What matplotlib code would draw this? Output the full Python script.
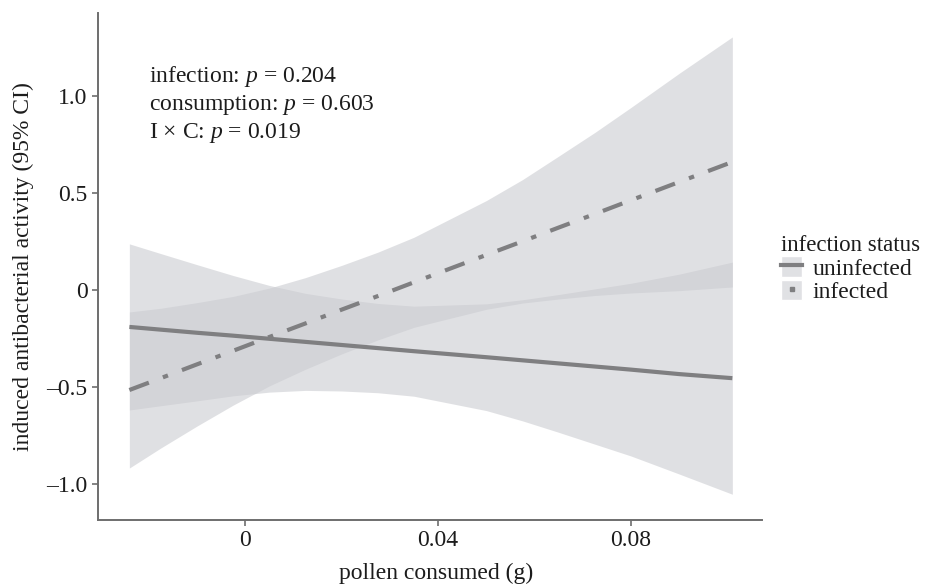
import numpy as np
import matplotlib
matplotlib.use("Agg")
from matplotlib import pyplot
from matplotlib.patches import Patch
from matplotlib.lines import Line2D

pyplot.rcParams['font.family'] = ['Liberation Serif', 'DejaVu Serif']
pyplot.rcParams['mathtext.fontset'] = 'custom'
pyplot.rcParams['mathtext.rm'] = 'Liberation Serif'
pyplot.rcParams['mathtext.it'] = 'Liberation Serif:italic'

# pollen consumed (g), sampled along the fitted range
pollen = [-0.024, -0.0175, -0.01, -0.0025, 0.005, 0.0125, 0.02, 0.0275, 0.035,
          0.05, 0.0575, 0.065, 0.0725, 0.08, 0.09, 0.101]

# uninfected: fit and 95% CI
unin_fit = [-0.190, -0.204, -0.220, -0.235, -0.251, -0.267, -0.283, -0.299, -0.315,
            -0.346, -0.362, -0.378, -0.394, -0.410, -0.433, -0.454]
unin_hi = [0.238, 0.188, 0.131, 0.075, 0.024, -0.017, -0.046, -0.069, -0.083,
           -0.071, -0.050, -0.023, 0.006, 0.035, 0.082, 0.144]
unin_lo = [-0.618, -0.596, -0.571, -0.545, -0.526, -0.517, -0.520, -0.529, -0.547,
           -0.621, -0.674, -0.733, -0.794, -0.855, -0.948, -1.052]

# infected: fit and 95% CI
inf_fit = [-0.515, -0.454, -0.383, -0.313, -0.242, -0.172, -0.101, -0.031, 0.040,
           0.181, 0.251, 0.322, 0.392, 0.463, 0.557, 0.660]
inf_hi = [-0.113, -0.094, -0.065, -0.033, 0.010, 0.064, 0.127, 0.195, 0.272,
          0.461, 0.569, 0.690, 0.812, 0.941, 1.117, 1.304]
inf_lo = [-0.917, -0.814, -0.701, -0.593, -0.494, -0.408, -0.329, -0.257, -0.192,
          -0.099, -0.067, -0.046, -0.028, -0.015, -0.003, 0.016]

yticks = [1.0, 0.5, 0, -0.5, -1.0]
ylabels = ['1.0', '0.5', '0', '\u20130.5', '\u20131.0']
xticks = [0, 0.04, 0.08]
xlabels = ['0', '0.04', '0.08']

stats = ['infection: $p$ = 0.204', 'consumption: $p$ = 0.603', 'I \u00d7 C: $p$ = 0.019']

band_col = '#cbccd1'
line_col = '#7f7f81'
axis_col = '#6e6e6e'
text_col = '#1c1c1c'
fs = 17

fig = pyplot.figure(figsize=(9.29, 5.85), dpi=100)
ax = fig.add_axes([0.1055, 0.111, 0.7145, 0.867])

ax.fill_between(pollen, unin_lo, unin_hi, color=band_col, alpha=0.6, lw=0)
ax.fill_between(pollen, inf_lo, inf_hi, color=band_col, alpha=0.6, lw=0)
ax.plot(pollen, unin_fit, color=line_col, lw=3.0, solid_capstyle='butt')
ax.plot(pollen, inf_fit, color=line_col, lw=3.0, dashes=(5, 3.6, 1.3, 3.6),
        dash_capstyle='butt')

ax.set_xlim(-0.0305, 0.1071)
ax.set_ylim(-1.185, 1.428)
ax.set_xticks(xticks)
ax.set_xticklabels(xlabels)
ax.set_yticks(yticks)
ax.set_yticklabels(ylabels)
ax.tick_params(colors=axis_col, labelcolor=text_col, labelsize=fs, length=4, width=1.2)
for s in ['top', 'right']:
    ax.spines[s].set_visible(False)
for s in ['left', 'bottom']:
    ax.spines[s].set_color(axis_col)
    ax.spines[s].set_linewidth(1.4)

ax.set_xlabel('pollen consumed (g)', fontsize=fs, color=text_col, labelpad=6)
ax.xaxis.set_label_coords(0.509, -0.085)
ax.set_ylabel('induced antibacterial activity (95% CI)', fontsize=fs, color=text_col, labelpad=9)

for i, s in enumerate(stats):
    ax.text(-0.0199, 1.0 + 0.1 - i * 0.146, s, fontsize=fs, color=text_col,
            va='center', ha='left')

h1 = (Patch(facecolor='#e0e1e4', edgecolor='white', lw=1),
      Line2D([], [], color=line_col, lw=3.0))
h2 = (Patch(facecolor='#e0e1e4', edgecolor='white', lw=1),
      Line2D([], [], color=line_col, marker='s', ms=3.5, ls='none'))
leg = fig.legend([h1, h2], ['uninfected', 'infected'], title='infection status',
                 loc='upper left', bbox_to_anchor=(0.828, 0.618), frameon=False,
                 fontsize=fs, title_fontsize=16.5, handlelength=0.9, handleheight=0.95,
                 labelspacing=0.0, handletextpad=0.45, borderpad=0.0)
leg._legend_box.align = 'left'
for t in leg.get_texts():
    t.set_color(text_col)
leg.get_title().set_color(text_col)

pyplot.savefig('out.png', dpi=100)
